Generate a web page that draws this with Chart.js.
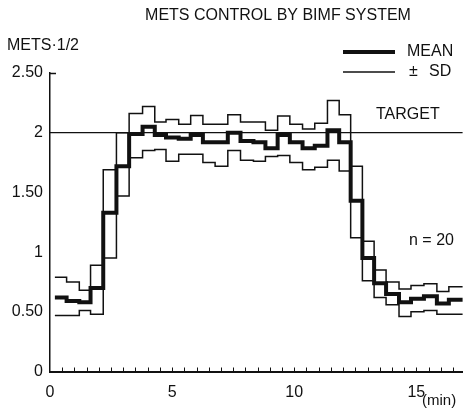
<!DOCTYPE html>
<html>
<head>
<meta charset="utf-8">
<script src="https://cdn.jsdelivr.net/npm/chart.js@4/dist/chart.umd.min.js"></script>
<style>
  body { margin: 0; background: #fff; }
  #wrap { width: 464px; height: 410px; }
</style>
</head>
<body>
<div id="wrap"><canvas id="myChart" width="464" height="410"></canvas></div>
<script>
// start of each 30 s step (min), last entry is where the trace stops
let times = [0.2, 0.68, 1.2, 1.66, 2.18, 2.72, 3.24, 3.79, 4.29, 4.75, 5.27, 5.76, 6.26, 6.76,
    7.28, 7.8, 8.33, 8.82, 9.32, 9.82, 10.34, 10.84, 11.36, 11.84, 12.31, 12.79, 13.27,
    13.76, 14.29, 14.78, 15.31, 15.84, 16.33, 16.9];

let meanValues = [0.62, 0.59, 0.58, 0.70, 1.33, 1.72, 1.99, 2.05, 1.98, 1.96, 1.95, 1.98, 1.92,
    1.92, 2.00, 1.93, 1.92, 1.87, 1.98, 1.92, 1.87, 1.89, 2.02, 1.92, 1.43, 0.95, 0.74, 0.65,
    0.58, 0.61, 0.63, 0.57, 0.60];
let upperSD = [0.79, 0.75, 0.68, 0.89, 1.69, 2.00, 2.16, 2.22, 2.09, 2.11, 2.07, 2.145, 2.07,
    2.07, 2.15, 2.09, 2.09, 2.02, 2.14, 2.07, 2.03, 2.08, 2.27, 2.15, 1.72, 1.09, 0.85, 0.75,
    0.69, 0.72, 0.735, 0.67, 0.71];
let lowerSD = [0.47, 0.47, 0.51, 0.48, 0.95, 1.47, 1.79, 1.85, 1.86, 1.76, 1.82, 1.82, 1.75,
    1.72, 1.85, 1.77, 1.76, 1.80, 1.81, 1.75, 1.69, 1.71, 1.77, 1.68, 1.12, 0.76, 0.62, 0.56,
    0.46, 0.50, 0.51, 0.48, 0.48];

let targetValue = 2;
let yTickLabels = ['0', '0.50', '1', '1.50', '2', '2.50'];
let xLabelled = [0, 5, 10, 15];
let xTickValues = [];
for (let v = 0; v <= 16.5; v += 0.5) xTickValues.push(v);

let FONT = "'Liberation Sans', Arial, sans-serif";

function toSteps(values) {
    // one point per step start, the last value held to the end time
    return times.map((t, i) => ({ x: t, y: values[Math.min(i, values.length - 1)] }));
}

let textPlugin = {
    id: 'extraText',
    afterDraw(chart) {
        let c = chart.ctx;
        let area = chart.chartArea;
        let xs = chart.scales.x;
        c.save();
        c.fillStyle = '#111';
        c.strokeStyle = '#111';
        c.textBaseline = 'middle';
        c.textAlign = 'left';

        // little upward ticks every half minute
        c.lineWidth = 1;
        xTickValues.forEach(v => {
            if (v === 0) return;
            let px = Math.round(xs.getPixelForValue(v)) + 0.5;
            c.beginPath();
            c.moveTo(px, area.bottom);
            c.lineTo(px, area.bottom - 4);
            c.stroke();
        });

        // hook on top of the y axis
        c.lineWidth = 1.5;
        c.beginPath();
        c.moveTo(area.left, area.top + 0.5);
        c.lineTo(area.left + 6, area.top + 0.5);
        c.stroke();

        c.font = '16px ' + FONT;
        c.textAlign = 'center';
        c.fillText('METS CONTROL BY BIMF SYSTEM', 278, 16);
        c.textAlign = 'left';
        c.fillText('METS\u00b71/2', 7, 46);

        // legend
        c.lineWidth = 4;
        c.beginPath();
        c.moveTo(343, 52);
        c.lineTo(395, 52);
        c.stroke();
        c.lineWidth = 1.5;
        c.beginPath();
        c.moveTo(343, 72);
        c.lineTo(395, 72);
        c.stroke();
        c.fillText('MEAN', 407, 52);
        c.fillText('\u00b1', 409, 72);
        c.fillText('SD', 429, 72);

        c.fillText('TARGET', 376, 115);
        c.fillText('n = 20', 409, 241);
        c.font = '15px ' + FONT;
        c.fillText('(min)', 422, 401);
        c.restore();
    }
};

let ctx = document.getElementById('myChart').getContext('2d');
let myChart = new Chart(ctx, {
    type: 'line',
    data: {
        datasets: [
            {
                label: 'MEAN',
                data: toSteps(meanValues),
                stepped: true,
                borderColor: '#111',
                borderWidth: 4,
                pointRadius: 0,
                fill: false
            },
            {
                label: '+SD',
                data: toSteps(upperSD),
                stepped: true,
                borderColor: '#111',
                borderWidth: 1.5,
                pointRadius: 0,
                fill: false
            },
            {
                label: '-SD',
                data: toSteps(lowerSD),
                stepped: true,
                borderColor: '#111',
                borderWidth: 1.5,
                pointRadius: 0,
                fill: false
            },
            {
                label: 'TARGET',
                data: [{ x: 0, y: targetValue }, { x: times[times.length - 1], y: targetValue }],
                borderColor: '#111',
                borderWidth: 1.2,
                pointRadius: 0,
                fill: false
            }
        ]
    },
    options: {
        responsive: false,
        animation: false,
        layout: { padding: { top: 73, right: 0, left: 0, bottom: 0 } },
        plugins: {
            legend: { display: false },
            tooltip: { enabled: false },
            title: { display: false }
        },
        scales: {
            x: {
                type: 'linear',
                min: 0,
                max: times[times.length - 1],
                afterBuildTicks: function(scale) {
                    scale.ticks = xTickValues.map(v => ({ value: v }));
                },
                afterFit: function(scale) { scale.height = 38.5; },
                grid: { display: false, drawTicks: false },
                border: { display: true, color: '#111', width: 2 },
                ticks: {
                    autoSkip: false,
                    maxRotation: 0,
                    padding: 11,
                    color: '#111',
                    font: { family: FONT, size: 16 },
                    callback: function(value) {
                        return xLabelled.includes(value) ? String(value) : '';
                    }
                }
            },
            y: {
                min: 0,
                max: 2.5,
                afterFit: function(scale) { scale.width = 50; },
                grid: { display: false, drawTicks: false },
                border: { display: true, color: '#111', width: 1.5 },
                ticks: {
                    stepSize: 0.5,
                    padding: 7,
                    color: '#111',
                    font: { family: FONT, size: 16 },
                    callback: function(value, index) {
                        return yTickLabels[index];
                    }
                }
            }
        }
    },
    plugins: [textPlugin]
});
</script>
</body>
</html>
